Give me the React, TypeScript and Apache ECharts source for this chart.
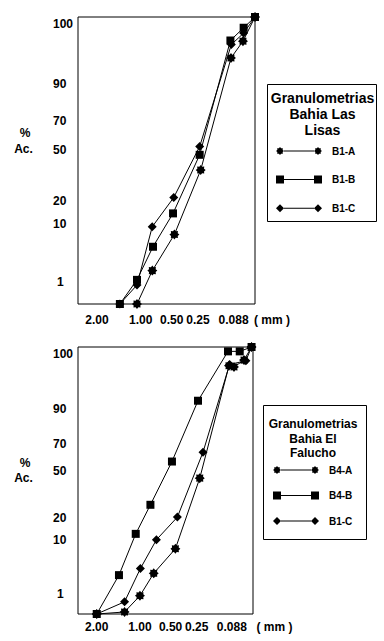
import React, { useEffect, useRef } from 'react';
import * as echarts from 'echarts';

// ---- axis definitions (tick values and labels) ----
const yTickPct = [1, 10, 20, 50, 70, 90, 100];
const yTickLabels = ['1', '10', '20', '50', '70', '90', '100'];
// probability-like scale of the original sheet: percent -> relative height (0..100)
const yAnchorPct = [0, 1, 10, 20, 50, 70, 90, 100];
const yAnchorPos = [0, 7.6, 27.8, 36, 53.5, 63.8, 76.6, 100];

const xTickMm = [2.0, 1.0, 0.5, 0.25, 0.088];
const xTickLabels = ['2.00', '1.00', '0.50', '0.25', '0.088'];
const xAnchorPos = [10.7, 35.4, 52.9, 67.8, 87.9];

// ---- Chart 1: Bahia Las Lisas ----
const topNames = ['B1-A', 'B1-B', 'B1-C'];
const topSizesA = [1.06, 0.77, 0.465, 0.231, 0.095, 0.0668, 0.0469];
const topPctA = [0, 2.8, 8.4, 38.3, 93.9, 96.4, 100];
const topSizesB = [1.39, 1.06, 0.759, 0.482, 0.238, 0.0966, 0.0655, 0.0469];
const topPctB = [0, 1.36, 6.5, 14.6, 47.4, 96.5, 98.4, 100];
const topSizesC = [1.39, 1.06, 0.772, 0.473, 0.238, 0.094, 0.0655, 0.0469];
const topPctC = [0, 0.87, 9.6, 21.9, 52.7, 95.9, 97.6, 100];

// ---- Chart 2: Bahia El Falucho ----
const botNames = ['B4-A', 'B4-B', 'B1-C'];
const botSizesA = [2.0, 1.28, 1.0, 0.732, 0.44, 0.228, 0.0957, 0.0825, 0.0613, 0.049];
const botPctA = [0, 0.1, 0.9, 4.4, 8.5, 45.5, 97.0, 96.8, 97.9, 100];
const botSizesB = [2.0, 1.4, 1.07, 0.789, 0.482, 0.24, 0.0986, 0.0696, 0.049];
const botPctB = [0, 4.1, 12.7, 28.4, 57, 91.4, 99.3, 99.3, 100];
const botSizesC = [2.0, 1.28, 0.99, 0.689, 0.417, 0.207, 0.094, 0.058, 0.049];
const botPctC = [0, 0.6, 5.2, 10, 20.5, 63.8, 97.2, 97.8, 100];

const topTitle = 'Granulometrias\nBahia Las\nLisas';
const botTitle = 'Granulometrias\nBahia El\nFalucho';
const yName = ['%', 'Ac.'];
const xUnit = '( mm )';

const FONT = '"Liberation Sans", Arial, Helvetica, sans-serif';

function interp(v: number, xs: number[], ys: number[]): number {
  const n = xs.length;
  let i = 0;
  if (v <= xs[0]) i = 0;
  else if (v >= xs[n - 1]) i = n - 2;
  else {
    while (i < n - 2 && v > xs[i + 1]) i++;
  }
  const t = (v - xs[i]) / (xs[i + 1] - xs[i]);
  return ys[i] + t * (ys[i + 1] - ys[i]);
}
const yPos = (p: number) => interp(p, yAnchorPct, yAnchorPos);
const xLogAnchors = xTickMm.map((m) => -Math.log10(m));
const xPos = (mm: number) => interp(-Math.log10(mm), xLogAnchors, xAnchorPos);

const STAR =
  'path://M100,50 L83.3,63.8 L85.4,85.4 L63.8,83.3 L50,100 L36.2,83.3 L14.6,85.4 L16.7,63.8 L0,50 L16.7,36.2 L14.6,14.6 L36.2,16.7 L50,0 L63.8,16.7 L85.4,14.6 L83.3,36.2 Z';

function starAt(dx: number) {
  const pts = [
    [8, 4], [6.66, 5.1], [6.83, 6.83], [5.1, 6.66], [4, 8], [2.9, 6.66], [1.17, 6.83], [1.34, 5.1],
    [0, 4], [1.34, 2.9], [1.17, 1.17], [2.9, 1.34], [4, 0], [5.1, 1.34], [6.83, 1.17], [6.66, 2.9],
  ];
  return 'M' + pts.map((p) => (p[0] + dx).toFixed(2) + ',' + p[1]).join(' L') + ' Z';
}
const LINE_MID = 'M8,3.5 H38 V4.5 H8 Z';
const ICON_STAR = 'path://' + starAt(0) + ' ' + LINE_MID + ' ' + starAt(38);
const ICON_SQUARE = 'path://M0,0 H8 V8 H0 Z ' + LINE_MID + ' M38,0 H46 V8 H38 Z';
const ICON_DIAMOND = 'path://M4,0 L8,4 L4,8 L0,4 Z ' + LINE_MID + ' M42,0 L46,4 L42,8 L38,4 Z';

const toData = (sizes: number[], pct: number[]) => sizes.map((s, i) => [xPos(s), yPos(pct[i])]);

function yLabelFormatter(v: number) {
  const i = yTickPct.findIndex((p) => Math.abs(yPos(p) - v) < 1e-6);
  if (i < 0) return '';
  const t = yTickLabels[i];
  if (t === '100') return '{top|' + t + '}';
  if (t === '1') return '{one|' + t + '}';
  return t;
}
function xLabelFormatter(v: number) {
  const i = xTickMm.findIndex((m) => Math.abs(xPos(m) - v) < 1e-6);
  return i < 0 ? '' : xTickLabels[i];
}

const labelFont = { fontFamily: FONT, fontWeight: 'bold' as const, fontSize: 12, color: '#000' };

function makeY(gridIndex: number) {
  return {
    type: 'value',
    gridIndex,
    min: 0,
    max: 100,
    axisLine: { show: false },
    axisTick: { show: false },
    splitLine: { show: false },
    axisLabel: {
      ...labelFont,
      align: 'left',
      margin: 25,
      customValues: yTickPct.map(yPos),
      formatter: yLabelFormatter,
      rich: {
        top: { ...labelFont, padding: [13, 0, 0, 0] },
        one: { ...labelFont, padding: [0, 0, 0, 4] },
      },
    },
  };
}
function makeX(gridIndex: number, margin: number, nameGap: number) {
  return {
    type: 'value',
    gridIndex,
    min: 0,
    max: 100,
    axisLine: { show: false },
    axisTick: { show: false },
    splitLine: { show: false },
    name: xUnit,
    nameLocation: 'end',
    nameGap,
    nameTextStyle: { ...labelFont, align: 'left', verticalAlign: 'top', lineHeight: 14, padding: [margin, 0, 0, 0] },
    axisLabel: {
      ...labelFont,
      lineHeight: 14,
      margin,
      customValues: xTickMm.map(xPos),
      formatter: xLabelFormatter,
    },
  };
}

function line(name: string, xi: number, data: number[][], symbol: string, size: number) {
  return {
    type: 'line',
    name,
    xAxisIndex: xi,
    yAxisIndex: xi,
    data,
    symbol,
    symbolSize: size,
    showSymbol: true,
    clip: false,
    lineStyle: { color: '#000', width: 1 },
    itemStyle: { color: '#000', borderWidth: 0 },
  };
}

function legend(names: string[], left: number, top: number, gap: number) {
  const icons = [ICON_STAR, ICON_SQUARE, ICON_DIAMOND];
  return {
    orient: 'vertical',
    left,
    top,
    padding: 0,
    itemGap: gap,
    itemWidth: 46,
    itemHeight: 8,
    selectedMode: false,
    itemStyle: { color: '#000', borderWidth: 0 },
    textStyle: { fontFamily: FONT, fontWeight: 'bold', fontSize: 10, color: '#000', lineHeight: 12, padding: [0, 0, 0, 5] },
    data: names.map((n, i) => ({ name: n, icon: icons[i] })),
  };
}

export default function App() {
  const ref = useRef<HTMLDivElement>(null);
  useEffect(() => {
    if (!ref.current) return;
    const chart = echarts.init(ref.current, undefined, { renderer: 'svg' });
    const option: any = {
      animation: false,
      backgroundColor: '#fff',
      textStyle: { fontFamily: FONT },
      grid: [
        { left: 78, top: 17, width: 177, height: 287, show: true, borderColor: '#000', borderWidth: 1, backgroundColor: 'transparent', outerBoundsMode: 'none', containLabel: false },
        { left: 78, top: 347, width: 175, height: 267, show: true, borderColor: '#000', borderWidth: 1, backgroundColor: 'transparent', outerBoundsMode: 'none', containLabel: false },
      ],
      xAxis: [makeX(0, 9, -1), makeX(1, 6, 3.5)],
      yAxis: [makeY(0), makeY(1)],
      legend: [legend(topNames, 276, 145, 16.6), legend(botNames, 273, 464, 13.5)],
      series: [
        line(topNames[0], 0, toData(topSizesA, topPctA), STAR, 10),
        line(topNames[1], 0, toData(topSizesB, topPctB), 'rect', 8),
        line(topNames[2], 0, toData(topSizesC, topPctC), 'diamond', 9),
        line(botNames[0], 1, toData(botSizesA, botPctA), STAR, 10),
        line(botNames[1], 1, toData(botSizesB, botPctB), 'rect', 8),
        line(botNames[2], 1, toData(botSizesC, botPctC), 'diamond', 9),
      ],
      graphic: [
        { type: 'rect', shape: { x: 267.5, y: 84.5, width: 109, height: 137 }, style: { fill: 'none', stroke: '#000', lineWidth: 1 } },
        { type: 'rect', shape: { x: 263.5, y: 405.5, width: 103, height: 134 }, style: { fill: 'none', stroke: '#000', lineWidth: 1 } },
        { type: 'text', x: 322.5, y: 89.5, style: { text: topTitle, textAlign: 'center', textVerticalAlign: 'top', font: 'bold 14px ' + FONT, lineHeight: 16, fill: '#000' } },
        { type: 'text', x: 313, y: 417, style: { text: botTitle, textAlign: 'center', textVerticalAlign: 'top', font: 'bold 12px ' + FONT, lineHeight: 14.5, fill: '#000' } },
        { type: 'text', x: 25, y: 133, style: { text: yName[0], textAlign: 'center', textVerticalAlign: 'middle', font: 'bold 12px ' + FONT, fill: '#000' } },
        { type: 'text', x: 23.5, y: 149, style: { text: yName[1], textAlign: 'center', textVerticalAlign: 'middle', font: 'bold 12px ' + FONT, fill: '#000' } },
        { type: 'text', x: 25, y: 463, style: { text: yName[0], textAlign: 'center', textVerticalAlign: 'middle', font: 'bold 12px ' + FONT, fill: '#000' } },
        { type: 'text', x: 23.5, y: 478, style: { text: yName[1], textAlign: 'center', textVerticalAlign: 'middle', font: 'bold 12px ' + FONT, fill: '#000' } },
      ],
    };
    chart.setOption(option);
    return () => chart.dispose();
  }, []);
  return <div ref={ref} style={{ position: 'absolute', left: 0, top: 0, width: 384, height: 641 }} />;
}
